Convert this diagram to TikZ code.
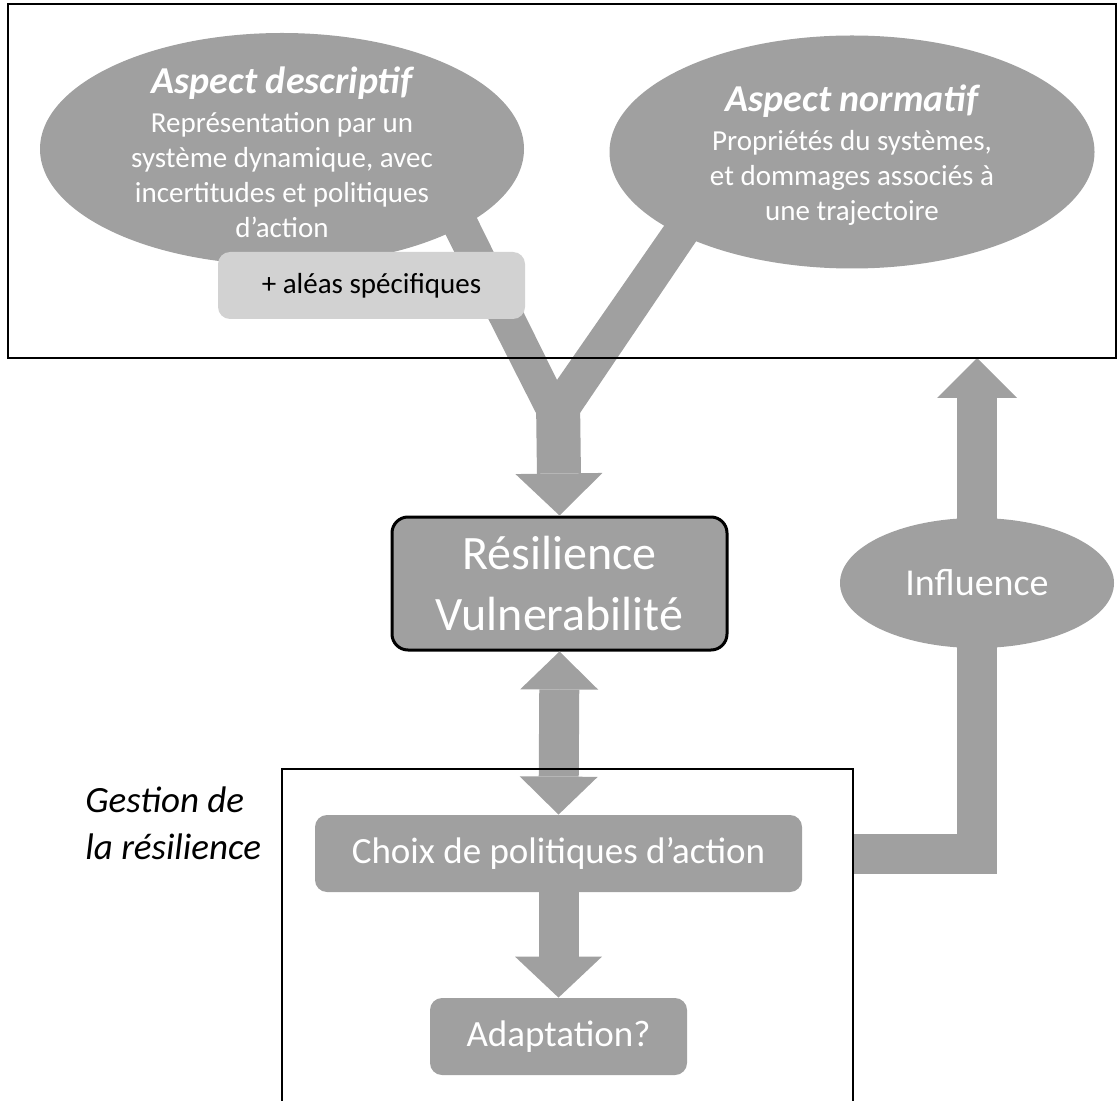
\documentclass[tikz,border=0pt]{standalone}
\usepackage{fontspec}
\setmainfont{Carlito}
\usetikzlibrary{shapes.geometric,arrows.meta}

\definecolor{fillgray}{RGB}{160,160,160}
\definecolor{notegray}{RGB}{210,210,210}

\tikzset{
  bubble/.style={ellipse, fill=fillgray, inner sep=0pt},
  bubbletext/.style={text=white, align=center, inner sep=0pt, font=\fontsize{14.5}{17.5}\selectfont},
  stepbox/.style={rectangle, rounded corners=6pt, fill=fillgray, text=white, inner sep=0pt, font=\fontsize{18.5}{22}\selectfont},
  fatarrow/.style={color=fillgray, line width=20pt, line join=miter, -{Triangle[width=40pt,length=20pt,line width=0pt]}},
  frame/.style={line width=1pt}
}

\begin{document}
\begin{tikzpicture}[x=0.5pt,y=-0.5pt]
\useasboundingbox (0,0) rectangle (1119,1101);

% fork of the two aspects
\fill[fillgray] (428,200) -- (536,413) -- (580,413) -- (724,200) -- (682,200) -- (557,380) -- (468,200) -- cycle;
\coordinate (ymerge) at (558,400);

% the two aspects
\node[bubble, minimum width=242pt, minimum height=116pt] (descr) at (282,149) {};
\node[bubbletext] (descrtxt) at (282,152) {{\fontsize{19}{21}\selectfont\bfseries\itshape Aspect descriptif}\\[2pt]Représentation par un\\système dynamique, avec\\incertitudes et politiques\\d’action};
\node[bubble, minimum width=242.5pt, minimum height=116.5pt] (norm) at (852,152) {};
\node[bubbletext] (normtxt) at (852,155) {{\fontsize{19}{21}\selectfont\bfseries\itshape Aspect normatif}\\[2pt]Propriétés du systèmes,\\et dommages associés à\\une trajectoire};
\node[stepbox, fill=notegray, text=black, minimum width=153.5pt, minimum height=33.5pt, font=\fontsize{14.5}{17.5}\selectfont] (alea) at (371.5,285.5) {+ aléas spécifiques};

% centre
\node[stepbox, draw=black, line width=1.5pt, rounded corners=8pt, minimum width=167.5pt, minimum height=66.5pt, font=\fontsize{24}{30.5}\selectfont, align=center] (res) at (559.5,583.5) {Résilience\\Vulnerabilité};

% management
\node[stepbox, minimum width=243.5pt, minimum height=38.5pt] (choix) at (558.5,853.5) {Choix de politiques d’action};
\node[stepbox, minimum width=128.5pt, minimum height=38.5pt] (adapt) at (558.5,1036.5) {Adaptation?};
\node[anchor=west, align=left, inner sep=0pt, font=\fontsize{18.5}{23.5}\selectfont\itshape] (gestion) at (85,823) {Gestion de\\la résilience};

% frames
\coordinate (tTL) at (8,4);
\coordinate (tBR) at (1116,358);
\coordinate (gTL) at (282,769);
\coordinate (gTR) at (853,769);

% arrows
\draw[fatarrow, line width=22pt, -{Triangle[width=43.5pt,length=21pt,line width=0pt]}] (ymerge) -- (res.north);
\draw[fatarrow, {Triangle[width=39pt,length=19pt,line width=0pt]}-{Triangle[width=39pt,length=19pt,line width=0pt]}] (res.south) -- (choix.north);
\draw[fatarrow, -{Triangle[width=43.5pt,length=20.5pt,line width=0pt]}] (choix.south) -- (adapt.north);
\draw[fatarrow] (gTR |- choix.east) -| (977,358);

\node[bubble, minimum width=137pt, minimum height=65pt, text=white, font=\fontsize{19}{22}\selectfont] (infl) at (977,583) {Influence};

\draw[frame] (tTL) rectangle (tBR);
\draw[frame, line width=0.75pt] (gTL |- 0,1101) -- (gTL) -- (gTR) -- (gTR |- 0,1101);

\end{tikzpicture}
\end{document}
